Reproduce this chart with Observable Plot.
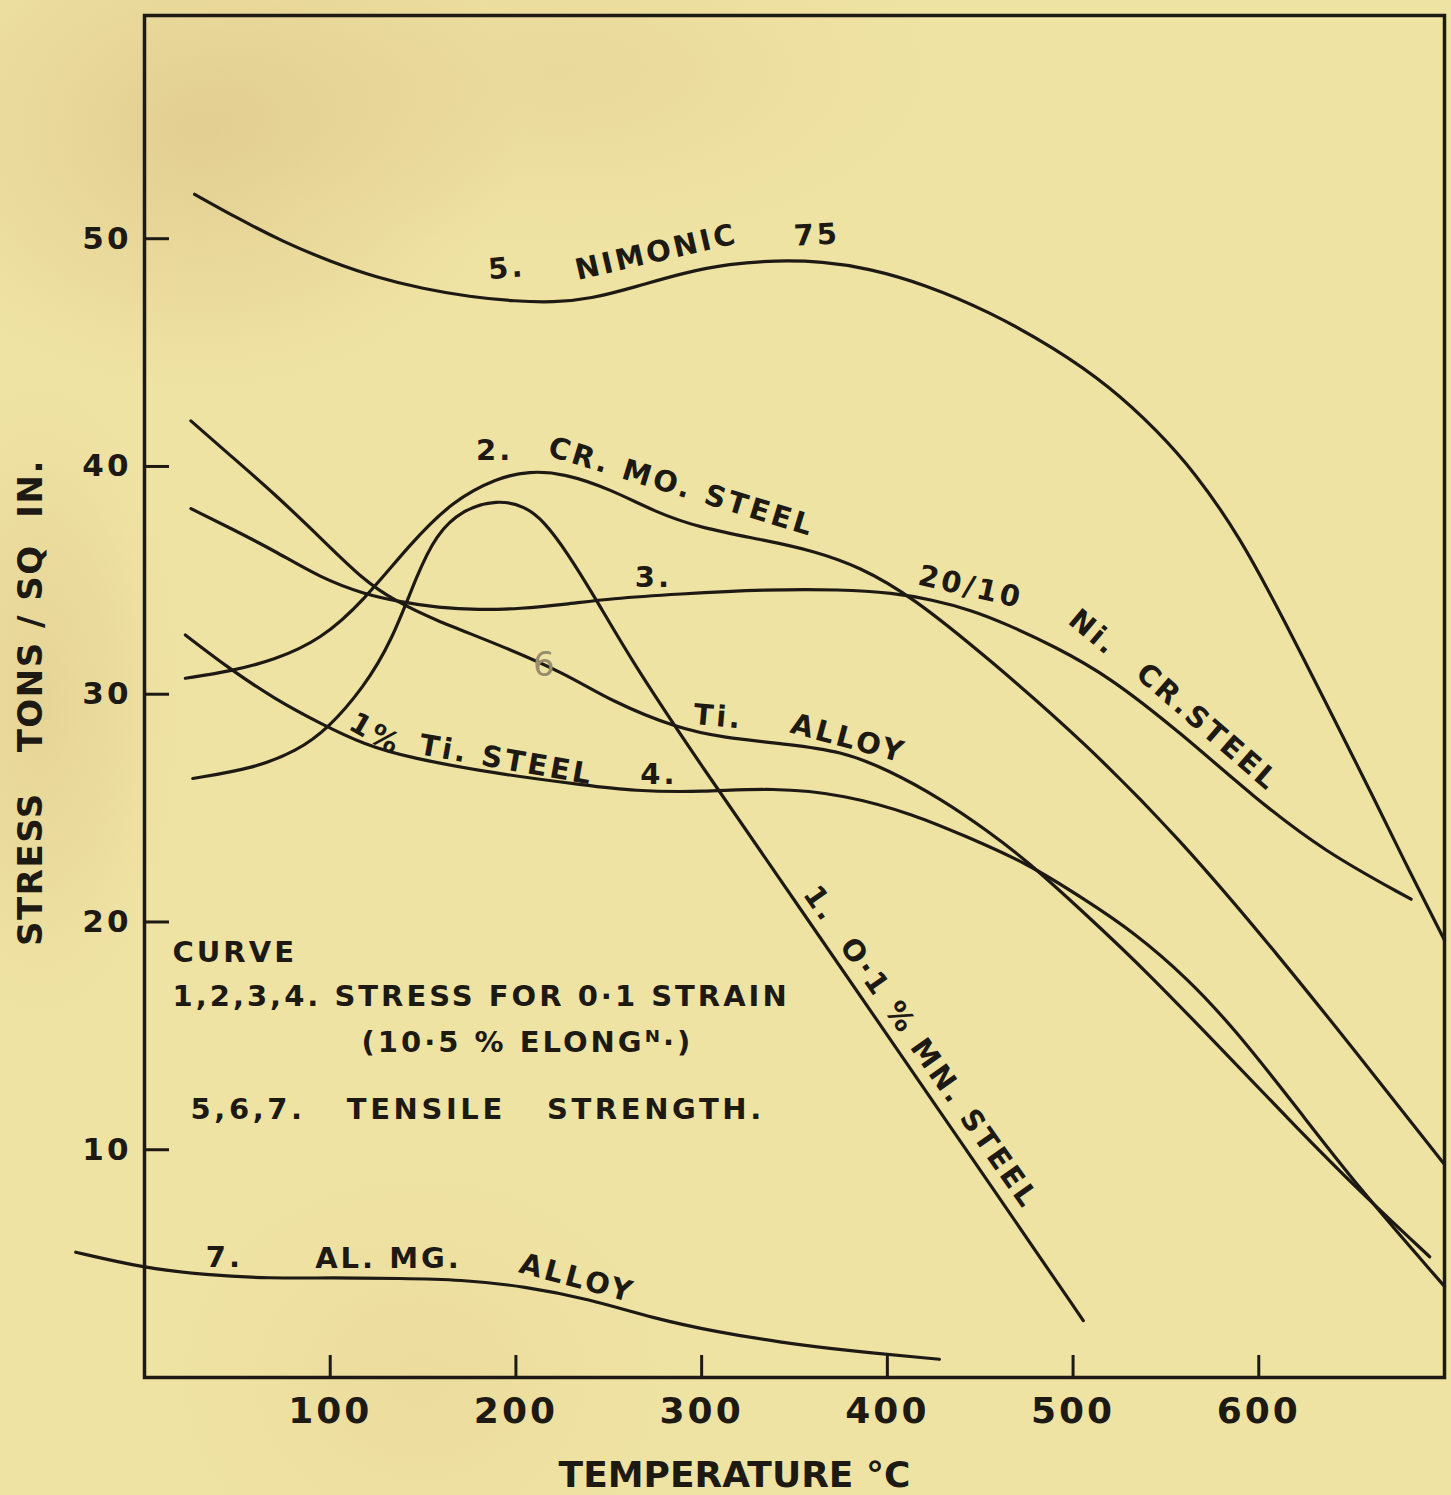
<!DOCTYPE html>
<html>
<head>
<meta charset="utf-8">
<script src="https://cdn.jsdelivr.net/npm/d3@7"></script>
<script src="https://cdn.jsdelivr.net/npm/@observablehq/plot@0.6"></script>
<style>
  html, body { margin: 0; padding: 0; background: #efe3a4; }
</style>
</head>
<body>
<div id="chart"></div>
<script>
// Temperature (°C) ticks and stress (tons / sq in.) ticks
const xTicks = [100, 200, 300, 400, 500, 600];
const yTicks = [10, 20, 30, 40, 50];

// Each curve: [temperature °C, stress tons/sq in.]
// 1. 0·1 % Mn steel (0·1 strain)
const mnSteel = [
  [26, 26.3], [59, 26.75], [82, 27.5], [99, 28.5], [118, 30.3], [133, 32.3],
  [147, 35.3], [157, 37.0], [171, 38.1], [190, 38.55], [205, 38.25], [215, 37.6],
  [227, 36.3], [243, 34.2], [262, 31.5], [299, 26.95], [353, 20.6], [407, 14.2],
  [461, 7.8], [505.5, 2.5]
];
// 2. Cr. Mo. steel (0·1 strain)
const crMoSteel = [
  [22, 30.7], [46, 31.0], [70, 31.5], [95, 32.4], [118, 34.1], [143, 36.6],
  [166, 38.5], [190, 39.5], [207, 39.8], [226, 39.7], [251, 39.0], [275, 38.0],
  [299, 37.3], [335, 36.75], [360, 36.3], [385, 35.6], [413, 34.3], [454, 31.6],
  [506, 27.9], [557, 23.7], [610, 18.6], [660, 13.5], [700, 9.35]
];
// 3. 20/10 Ni. Cr. steel (0·1 strain)
const niCrSteel = [
  [25, 38.15], [46, 37.3], [70, 36.3], [95, 35.1], [118, 34.4], [138, 34.05],
  [158, 33.8], [180, 33.7], [202, 33.75], [227, 33.95], [251, 34.2], [287, 34.4],
  [335, 34.6], [375, 34.6], [403, 34.45], [424, 34.15], [445, 33.7], [465, 33.05],
  [490, 32.1], [519, 30.8], [558, 28.3], [597, 25.5], [635, 23.1], [682, 21.0]
];
// 4. 1 % Ti. steel (0·1 strain)
const tiSteel = [
  [22, 32.6], [46, 31.1], [70, 29.8], [95, 28.7], [118, 27.8], [143, 27.2],
  [190, 26.5], [238, 26.0], [263, 25.75], [300, 25.7], [338, 25.9], [377, 25.6],
  [415, 24.7], [441, 23.8], [475, 22.6], [506, 21.0], [532, 19.6], [562, 17.5],
  [587, 15.3], [620, 11.9], [653, 8.4], [700, 4.0]
];
// 5. Nimonic 75 (tensile strength)
const nimonic75 = [
  [27, 51.95], [50, 50.9], [75, 49.85], [100, 49.0], [125, 48.3], [150, 47.8],
  [175, 47.45], [200, 47.25], [220, 47.2], [240, 47.35], [265, 47.9], [290, 48.5],
  [315, 48.9], [340, 49.05], [365, 49.0], [390, 48.7], [420, 48.0], [455, 46.8],
  [490, 45.2], [520, 43.5], [545, 41.6], [565, 39.8], [590, 36.9], [614, 33.2],
  [640, 29.0], [661, 25.6], [680, 22.4], [700, 19.2]
];
// 6. Ti. alloy (tensile strength)
const tiAlloy = [
  [25, 42.0], [46, 40.5], [70, 38.8], [95, 36.85], [118, 35.0], [135, 34.1],
  [155, 33.3], [190, 32.2], [227, 30.9], [251, 29.7], [287, 28.5], [311, 28.1],
  [347, 27.8], [375, 27.5], [400, 26.7], [429, 25.4], [454, 24.0], [475, 22.7],
  [506, 20.4], [540, 17.8], [586, 13.9], [620, 11.0], [654, 8.2], [692, 5.3]
];
// 7. Al. Mg. alloy (tensile strength)
const alMgAlloy = [
  [-37, 5.5], [0, 4.8], [33, 4.5], [67, 4.35], [101, 4.38], [138, 4.35],
  [170, 4.3], [205, 4.0], [239, 3.45], [274, 2.6], [308, 2.0], [342, 1.55],
  [376, 1.2], [428, 0.8]
];

const curves = [
  {curve: "1", points: mnSteel},
  {curve: "2", points: crMoSteel},
  {curve: "3", points: niCrSteel},
  {curve: "4", points: tiSteel},
  {curve: "5", points: nimonic75},
  {curve: "6", points: tiAlloy},
  {curve: "7", points: alMgAlloy}
];
const rows = curves.flatMap(({curve, points}) =>
  points.map(([temp, stress]) => ({curve, temp, stress})));

// Lettering along the curves, anchored in data units
const curveLabels = [
  {text: "5.", temp: 195, stress: 48.7, angle: -5},
  {text: "NIMONIC", temp: 275.7, stress: 49.4, angle: -13},
  {text: "75", temp: 362, stress: 50.15, angle: -3},
  {text: "2.", temp: 188.5, stress: 40.7, angle: 0},
  {text: "CR. MO. STEEL", temp: 289.2, stress: 39.1, angle: 17},
  {text: "3.", temp: 274, stress: 35.1, angle: 0},
  {text: "20/10", temp: 444.8, stress: 34.7, angle: 13},
  {text: "Ni.", temp: 511, stress: 32.7, angle: 40},
  {text: "CR.STEEL", temp: 572.4, stress: 28.55, angle: 41},
  {text: "Ti.", temp: 309, stress: 29.0, angle: 5},
  {text: "ALLOY", temp: 379, stress: 28.05, angle: 15},
  {text: "1%", temp: 124.4, stress: 28.25, angle: 30},
  {text: "Ti. STEEL", temp: 195, stress: 27.1, angle: 10},
  {text: "4.", temp: 277, stress: 26.45, angle: 0},
  {text: "1.\u00a0\u00a0O·1 % MN. STEEL", temp: 418, stress: 14.5, angle: 55},
  {text: "7.", temp: 43, stress: 5.27, angle: 0},
  {text: "AL. MG.", temp: 131.4, stress: 5.22, angle: 0},
  {text: "ALLOY", temp: 233, stress: 4.35, angle: 15}
];

// Key block, left-aligned on its baseline
const keyLines = [
  {text: "CURVE", temp: 15.1, stress: 18.26},
  {text: "1,2,3,4. STRESS FOR 0·1 STRAIN", temp: 15.1, stress: 16.33},
  {text: "(10·5 % ELONGᴺ·)", temp: 116.9, stress: 14.27},
  {text: "5,6,7.\u00a0\u00a0\u00a0TENSILE\u00a0\u00a0\u00a0STRENGTH.", temp: 24.8, stress: 11.37}
];

const xTitle = "TEMPERATURE °C";
const yTitle = "STRESS\u00a0\u00a0\u00a0TONS / SQ\u00a0\u00a0IN.";

const W = 1451, H = 1495;
const M = {top: 15, right: 7, bottom: 118, left: 144};
const innerW = W - M.left - M.right;
const innerH = H - M.top - M.bottom;
const ink = "#1d1913";
const paper = "#efe3a4";
const font = "DejaVu Sans";

// aged paper: a flat tone with a few faint brownish blotches
const paperBackground = [
  "radial-gradient(ellipse 320px 260px at 200px 130px, rgba(196,158,98,0.30), rgba(196,158,98,0) 100%)",
  "radial-gradient(ellipse 140px 320px at 40px 700px, rgba(196,158,98,0.22), rgba(196,158,98,0) 100%)",
  "radial-gradient(ellipse 380px 180px at 560px 70px, rgba(196,158,98,0.14), rgba(196,158,98,0) 100%)",
  "radial-gradient(ellipse 260px 220px at 420px 1380px, rgba(214,170,110,0.12), rgba(214,170,110,0) 100%)",
  paper
].join(", ");

const chart = Plot.plot({
  width: W,
  height: H,
  marginTop: M.top,
  marginRight: M.right,
  marginBottom: M.bottom,
  marginLeft: M.left,
  x: {domain: [0, 700]},
  y: {domain: [0, 59.8]},
  style: {background: paperBackground, color: ink, fontFamily: font, overflow: "visible"},
  marks: [
    Plot.frame({stroke: ink, strokeWidth: 3.5}),
    // inward tick marks
    Plot.tickX(xTicks, {x: d => d, stroke: ink, strokeWidth: 3, insetTop: innerH - 22}),
    Plot.tickY(yTicks, {y: d => d, stroke: ink, strokeWidth: 3, insetRight: innerW - 25}),
    Plot.axisX(xTicks, {tickSize: 0, tickPadding: 20, fontSize: 36, fontWeight: "bold", label: null}),
    Plot.axisY(yTicks, {tickSize: 0, tickPadding: 13, fontSize: 31, fontWeight: "bold", label: null}),
    Plot.line(rows, {
      x: "temp", y: "stress", z: "curve", curve: "basis",
      stroke: ink, strokeWidth: 3.2, strokeLinecap: "round"
    }),
    Plot.text(curveLabels, {
      x: "temp", y: "stress", text: "text", rotate: "angle",
      textAnchor: "middle", lineAnchor: "middle",
      fontSize: 29, fontWeight: "bold", fill: ink
    }),
    Plot.text(keyLines, {
      x: "temp", y: "stress", text: "text",
      textAnchor: "start", lineAnchor: "bottom",
      fontSize: 29, fontWeight: "bold", fill: ink
    }),
    // pencilled curve number
    Plot.text(["6"], {
      x: [215], y: [31.3], text: d => d,
      fontSize: 34, fill: "#978d6c"
    }),
    Plot.text([xTitle], {
      frameAnchor: "bottom", text: d => d, dx: -60, dy: 109,
      textAnchor: "middle", lineAnchor: "bottom",
      fontSize: 36, fontWeight: "bold", fill: ink
    }),
    Plot.text([yTitle], {
      frameAnchor: "left", text: d => d, dx: -113, dy: 6, rotate: -90,
      textAnchor: "middle", lineAnchor: "middle",
      fontSize: 34, fontWeight: "bold", fill: ink
    })
  ]
});

// hand-lettered spacing: wide for the lettering, tighter for the axis titles
const spacing = new Map([[xTitle, "0px"], [yTitle, "1.5px"], ["6", "0px"], [keyLines[3].text, "3.6px"]]);
d3.select(chart).selectAll("text").each(function () {
  const t = this.textContent;
  this.style.letterSpacing = spacing.has(t) ? spacing.get(t) : "3px";
});

document.getElementById("chart").append(chart);
</script>
</body>
</html>
